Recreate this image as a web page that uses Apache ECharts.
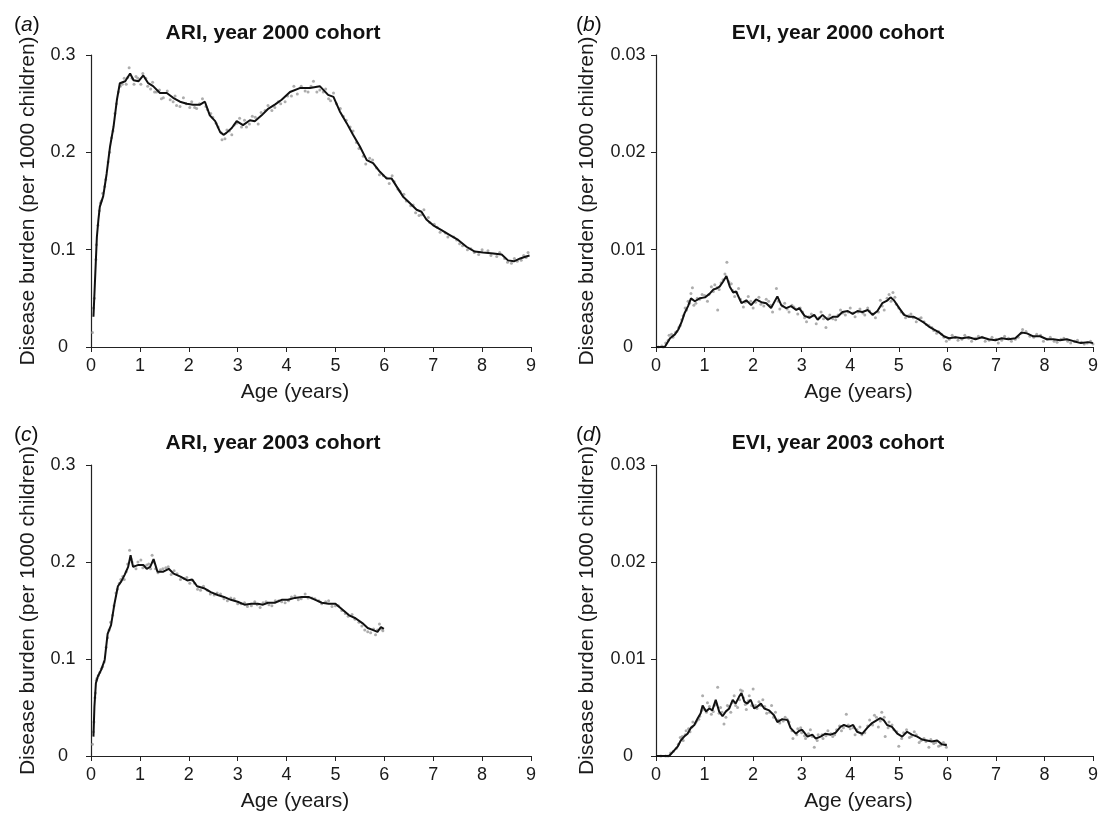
<!DOCTYPE html>
<html>
<head>
<meta charset="utf-8">
<script src="https://cdn.jsdelivr.net/npm/echarts@6/dist/echarts.min.js"></script>
<style>
  html, body { margin: 0; padding: 0; background: #fff; }
</style>
</head>
<body>
<div id="main" style="width: 1101px; height: 813px"></div>
<script>
// x axis ticks (age in years)
const ageTicks = [0, 1, 2, 3, 4, 5, 6, 7, 8, 9];

// (a) ARI, year 2000 cohort - smoothed line
const ageA = [0.05, 0.08, 0.12, 0.15, 0.18, 0.25, 0.32, 0.39, 0.46, 0.53, 0.59, 0.70, 0.80, 0.87, 0.97, 1.07, 1.17, 1.27, 1.41, 1.55, 1.68, 1.82, 1.96, 2.09, 2.23, 2.33, 2.43, 2.54, 2.64, 2.71, 2.77, 2.88, 2.98, 3.11, 3.25, 3.35, 3.49, 3.63, 3.76, 3.90, 4.07, 4.27, 4.48, 4.68, 4.85, 4.96, 5.09, 5.23, 5.36, 5.50, 5.64, 5.77, 5.91, 6.05, 6.15, 6.25, 6.39, 6.52, 6.66, 6.76, 6.86, 7.00, 7.17, 7.34, 7.51, 7.68, 7.85, 8.02, 8.23, 8.40, 8.53, 8.65, 8.78, 8.90, 8.97];
const lineA = [0.031, 0.066, 0.113, 0.130, 0.144, 0.155, 0.178, 0.206, 0.226, 0.254, 0.271, 0.273, 0.281, 0.274, 0.273, 0.279, 0.271, 0.268, 0.261, 0.261, 0.256, 0.252, 0.250, 0.249, 0.249, 0.252, 0.238, 0.232, 0.221, 0.218, 0.220, 0.225, 0.232, 0.228, 0.233, 0.232, 0.238, 0.245, 0.249, 0.254, 0.262, 0.266, 0.266, 0.268, 0.259, 0.257, 0.242, 0.230, 0.218, 0.206, 0.192, 0.189, 0.180, 0.173, 0.173, 0.165, 0.154, 0.148, 0.141, 0.139, 0.131, 0.125, 0.120, 0.115, 0.110, 0.103, 0.098, 0.097, 0.096, 0.095, 0.089, 0.088, 0.091, 0.093, 0.094];
// (a) raw points
const dotAgeA = [0.03, 0.07, 0.10, 0.14, 0.17, 0.21, 0.28, 0.35, 0.42, 0.49, 0.56, 0.64, 0.75, 0.78, 0.92, 1.02, 1.12, 1.22, 1.34, 1.48, 1.62, 1.75, 1.89, 2.02, 2.16, 2.28, 2.38, 2.49, 2.60, 2.68, 2.74, 2.83, 2.93, 3.04, 3.18, 3.30, 3.42, 3.56, 3.70, 3.83, 3.97, 4.15, 4.22, 4.38, 4.55, 4.62, 4.75, 4.90, 5.02, 5.16, 5.30, 5.43, 5.57, 5.70, 5.84, 5.98, 6.10, 6.20, 6.32, 6.45, 6.59, 6.71, 6.81, 6.93, 7.08, 7.25, 7.42, 7.60, 7.77, 7.93, 8.12, 8.30, 8.46, 8.60, 8.72, 8.85, 8.94,
  0.05, 0.11, 0.19, 0.24, 0.30, 0.38, 0.45, 0.52, 0.60, 0.68, 0.72, 0.84, 0.88, 0.96, 1.06, 1.16, 1.26, 1.30, 1.40, 1.44, 1.56, 1.68, 1.72, 1.82, 1.95, 2.06, 2.12, 2.22, 2.35, 2.45, 2.56, 2.66, 2.78, 2.88, 2.98, 3.08, 3.14, 3.24, 3.36, 3.48, 3.62, 3.76, 3.88, 4.02, 4.10, 4.30, 4.44, 4.50, 4.68, 4.80, 4.86, 4.96, 5.10, 5.22, 5.36, 5.48, 5.62, 5.76, 5.90, 6.04, 6.16, 6.28, 6.40, 6.54, 6.64, 6.76, 6.90, 7.02, 7.14, 7.30, 7.48, 7.54, 7.70, 7.84, 8.00, 8.18, 8.36, 8.52, 8.66, 8.80, 8.90];
const dotA = [0.015, 0.050, 0.090, 0.125, 0.140, 0.150, 0.165, 0.190, 0.215, 0.240, 0.262, 0.270, 0.277, 0.287, 0.278, 0.270, 0.276, 0.265, 0.262, 0.256, 0.254, 0.248, 0.256, 0.246, 0.245, 0.255, 0.244, 0.236, 0.226, 0.213, 0.214, 0.222, 0.228, 0.235, 0.226, 0.237, 0.229, 0.243, 0.243, 0.252, 0.252, 0.268, 0.260, 0.263, 0.273, 0.262, 0.262, 0.253, 0.250, 0.237, 0.226, 0.210, 0.196, 0.194, 0.184, 0.176, 0.168, 0.170, 0.160, 0.150, 0.146, 0.135, 0.141, 0.128, 0.123, 0.117, 0.113, 0.104, 0.101, 0.095, 0.099, 0.093, 0.091, 0.086, 0.088, 0.094, 0.097,
  0.040, 0.105, 0.148, 0.158, 0.172, 0.200, 0.222, 0.250, 0.268, 0.276, 0.270, 0.276, 0.270, 0.276, 0.281, 0.268, 0.272, 0.262, 0.264, 0.255, 0.263, 0.252, 0.258, 0.247, 0.250, 0.252, 0.246, 0.250, 0.247, 0.240, 0.230, 0.220, 0.223, 0.218, 0.230, 0.226, 0.233, 0.229, 0.236, 0.241, 0.248, 0.246, 0.250, 0.258, 0.258, 0.268, 0.262, 0.268, 0.264, 0.265, 0.255, 0.261, 0.245, 0.233, 0.222, 0.204, 0.188, 0.192, 0.177, 0.174, 0.176, 0.162, 0.157, 0.145, 0.138, 0.136, 0.133, 0.126, 0.118, 0.113, 0.110, 0.106, 0.100, 0.097, 0.100, 0.094, 0.097, 0.087, 0.091, 0.089, 0.092];

// (b) EVI, year 2000 cohort
const ageB = [0, 0.18, 0.22, 0.29, 0.39, 0.46, 0.53, 0.59, 0.66, 0.72, 0.80, 0.90, 1.01, 1.11, 1.18, 1.24, 1.31, 1.38, 1.45, 1.52, 1.59, 1.65, 1.76, 1.86, 1.96, 2.06, 2.17, 2.27, 2.37, 2.50, 2.58, 2.68, 2.78, 2.89, 2.95, 3.06, 3.16, 3.26, 3.33, 3.43, 3.54, 3.64, 3.74, 3.84, 3.95, 4.05, 4.15, 4.25, 4.36, 4.46, 4.56, 4.66, 4.77, 4.83, 4.90, 5.01, 5.11, 5.21, 5.31, 5.42, 5.52, 5.62, 5.72, 5.83, 5.93, 6.03, 6.17, 6.30, 6.44, 6.58, 6.71, 6.85, 6.99, 7.12, 7.26, 7.40, 7.53, 7.64, 7.77, 7.91, 8.05, 8.18, 8.32, 8.46, 8.60, 8.75, 8.90, 9.00];
const lineB = [0, 0, 0.00014, 0.0009, 0.0013, 0.0018, 0.0026, 0.0035, 0.0042, 0.0050, 0.0047, 0.0050, 0.0051, 0.0055, 0.0059, 0.0060, 0.0062, 0.0067, 0.0073, 0.0062, 0.0056, 0.0057, 0.0045, 0.0048, 0.0043, 0.0049, 0.0046, 0.0045, 0.0040, 0.0052, 0.0043, 0.0040, 0.0042, 0.0038, 0.0040, 0.0032, 0.0030, 0.0033, 0.0028, 0.0033, 0.0028, 0.0031, 0.0031, 0.0036, 0.0037, 0.0034, 0.0037, 0.0036, 0.0038, 0.0033, 0.0037, 0.0045, 0.0048, 0.0051, 0.0048, 0.0040, 0.0033, 0.0031, 0.0031, 0.0028, 0.0025, 0.0021, 0.0018, 0.0015, 0.0011, 0.0009, 0.0010, 0.0009, 0.0010, 0.0008, 0.0010, 0.0008, 0.0007, 0.0009, 0.0008, 0.0009, 0.0015, 0.0014, 0.0011, 0.0011, 0.0008, 0.0008, 0.0007, 0.0008, 0.0006, 0.0004, 0.0005, 0.0004];
const dotAgeB = [0.05, 0.12, 0.20, 0.27, 0.35, 0.43, 0.50, 0.56, 0.63, 0.69, 0.75, 0.78, 0.85, 0.95, 1.06, 1.14, 1.21, 1.27, 1.34, 1.42, 1.46, 1.55, 1.62, 1.70, 1.80, 1.90, 2.00, 2.12, 2.22, 2.32, 2.40, 2.48, 2.55, 2.65, 2.74, 2.84, 2.92, 3.02, 3.10, 3.20, 3.30, 3.40, 3.50, 3.58, 3.70, 3.80, 3.90, 4.00, 4.10, 4.20, 4.30, 4.40, 4.52, 4.62, 4.70, 4.80, 4.88, 4.95, 5.05, 5.14, 5.25, 5.36, 5.46, 5.57, 5.68, 5.78, 5.88, 5.98, 6.10, 6.22, 6.36, 6.50, 6.64, 6.78, 6.92, 7.05, 7.18, 7.32, 7.46, 7.55, 7.70, 7.84, 7.98, 8.12, 8.26, 8.40, 8.54, 8.68, 8.82, 8.95,
  0.15, 0.25, 0.32, 0.40, 0.47, 0.53, 0.60, 0.66, 0.72, 0.82, 0.90, 1.00, 1.09, 1.18, 1.25, 1.30, 1.38, 1.50, 1.58, 1.66, 1.74, 1.84, 1.95, 2.05, 2.16, 2.27, 2.36, 2.52, 2.60, 2.70, 2.80, 2.88, 2.97, 3.06, 3.15, 3.25, 3.36, 3.45, 3.55, 3.64, 3.75, 3.85, 3.96, 4.06, 4.16, 4.26, 4.36, 4.46, 4.58, 4.66, 4.76, 4.84, 4.92, 5.00, 5.10, 5.20, 5.30, 5.42, 5.52, 5.62, 5.72, 5.82, 5.93, 6.04, 6.16, 6.30, 6.44, 6.58, 6.72, 6.86, 7.00, 7.12, 7.26, 7.40, 7.52, 7.62, 7.78, 7.92, 8.06, 8.20, 8.34, 8.48, 8.62, 8.76, 8.88, 9.00];
const dotB = [0, 0.0001, 0.0004, 0.0012, 0.0010, 0.0016, 0.0022, 0.0032, 0.0038, 0.0045, 0.0061, 0.0043, 0.0050, 0.0054, 0.0047, 0.0062, 0.0064, 0.0038, 0.0066, 0.0075, 0.0087, 0.0065, 0.0052, 0.0060, 0.0041, 0.0052, 0.0040, 0.0051, 0.0042, 0.0047, 0.0036, 0.0060, 0.0039, 0.0045, 0.0036, 0.0041, 0.0034, 0.0036, 0.0026, 0.0034, 0.0024, 0.0036, 0.0020, 0.0033, 0.0028, 0.0038, 0.0033, 0.0040, 0.0031, 0.0039, 0.0033, 0.0037, 0.0030, 0.0048, 0.0038, 0.0054, 0.0056, 0.0044, 0.0036, 0.0030, 0.0034, 0.0026, 0.0030, 0.0023, 0.0020, 0.0014, 0.0013, 0.0006, 0.0012, 0.0007, 0.0012, 0.0006, 0.0011, 0.0006, 0.0010, 0.0004, 0.0011, 0.0006, 0.0010, 0.0018, 0.0011, 0.0013, 0.0006, 0.0010, 0.0005, 0.0009, 0.0004, 0.0007, 0.0003, 0.0006,
  0, 0.0007, 0.0013, 0.0015, 0.0020, 0.0028, 0.0040, 0.0047, 0.0055, 0.0045, 0.0049, 0.0053, 0.0054, 0.0057, 0.0061, 0.0059, 0.0069, 0.0067, 0.0058, 0.0056, 0.0049, 0.0046, 0.0047, 0.0046, 0.0044, 0.0049, 0.0043, 0.0047, 0.0042, 0.0039, 0.0043, 0.0039, 0.0040, 0.0030, 0.0031, 0.0032, 0.0030, 0.0029, 0.0030, 0.0029, 0.0033, 0.0035, 0.0036, 0.0035, 0.0036, 0.0035, 0.0040, 0.0034, 0.0036, 0.0042, 0.0050, 0.0047, 0.0051, 0.0040, 0.0034, 0.0032, 0.0030, 0.0029, 0.0026, 0.0022, 0.0017, 0.0016, 0.0010, 0.0008, 0.0010, 0.0008, 0.0009, 0.0009, 0.0010, 0.0007, 0.0008, 0.0007, 0.0009, 0.0008, 0.0014, 0.0016, 0.0010, 0.0012, 0.0008, 0.0006, 0.0008, 0.0006, 0.0006, 0.0005, 0.0004, 0.0003];

// (c) ARI, year 2003 cohort
const ageC = [0.05, 0.07, 0.10, 0.14, 0.21, 0.28, 0.34, 0.41, 0.48, 0.55, 0.62, 0.69, 0.76, 0.81, 0.86, 0.97, 1.07, 1.14, 1.21, 1.28, 1.36, 1.48, 1.59, 1.69, 1.83, 1.97, 2.07, 2.17, 2.31, 2.45, 2.59, 2.72, 2.86, 3.00, 3.14, 3.28, 3.41, 3.52, 3.62, 3.76, 3.90, 4.03, 4.17, 4.31, 4.45, 4.59, 4.72, 4.86, 5.00, 5.14, 5.28, 5.41, 5.55, 5.66, 5.76, 5.86, 5.93, 5.99];
const lineC = [0.020, 0.051, 0.075, 0.082, 0.089, 0.099, 0.126, 0.135, 0.157, 0.175, 0.180, 0.187, 0.195, 0.207, 0.195, 0.197, 0.197, 0.193, 0.195, 0.203, 0.190, 0.190, 0.193, 0.188, 0.185, 0.181, 0.182, 0.175, 0.173, 0.169, 0.166, 0.164, 0.161, 0.159, 0.156, 0.157, 0.157, 0.156, 0.158, 0.158, 0.161, 0.161, 0.163, 0.164, 0.164, 0.161, 0.158, 0.157, 0.157, 0.151, 0.145, 0.142, 0.137, 0.132, 0.130, 0.128, 0.133, 0.131];
const dotAgeC = [0.03, 0.06, 0.09, 0.12, 0.18, 0.24, 0.31, 0.37, 0.44, 0.51, 0.58, 0.65, 0.72, 0.79, 0.84, 0.92, 1.02, 1.10, 1.18, 1.25, 1.32, 1.42, 1.53, 1.64, 1.76, 1.90, 2.02, 2.12, 2.24, 2.38, 2.52, 2.65, 2.79, 2.93, 3.07, 3.20, 3.35, 3.46, 3.58, 3.70, 3.84, 3.97, 4.10, 4.24, 4.38, 4.52, 4.66, 4.80, 4.93, 5.06, 5.20, 5.34, 5.48, 5.60, 5.72, 5.82, 5.90, 5.97,
  0.05, 0.08, 0.11, 0.15, 0.21, 0.27, 0.34, 0.40, 0.47, 0.54, 0.61, 0.68, 0.75, 0.82, 0.88, 0.96, 1.06, 1.14, 1.22, 1.28, 1.37, 1.47, 1.58, 1.70, 1.83, 1.96, 2.08, 2.18, 2.30, 2.44, 2.58, 2.72, 2.86, 3.00, 3.14, 3.28, 3.40, 3.52, 3.64, 3.77, 3.90, 4.04, 4.17, 4.30, 4.44, 4.58, 4.72, 4.86, 5.00, 5.13, 5.26, 5.40, 5.54, 5.66, 5.78, 5.86, 5.94];
const dotC = [0.012, 0.035, 0.065, 0.080, 0.086, 0.092, 0.112, 0.130, 0.145, 0.168, 0.178, 0.185, 0.190, 0.212, 0.200, 0.193, 0.202, 0.195, 0.198, 0.207, 0.193, 0.192, 0.194, 0.187, 0.188, 0.183, 0.178, 0.178, 0.171, 0.171, 0.166, 0.167, 0.160, 0.162, 0.157, 0.154, 0.159, 0.153, 0.159, 0.155, 0.160, 0.158, 0.164, 0.161, 0.167, 0.163, 0.160, 0.159, 0.154, 0.155, 0.147, 0.146, 0.138, 0.130, 0.127, 0.125, 0.136, 0.129,
  0.025, 0.060, 0.078, 0.083, 0.090, 0.097, 0.122, 0.138, 0.155, 0.172, 0.182, 0.182, 0.198, 0.203, 0.196, 0.200, 0.194, 0.197, 0.193, 0.200, 0.189, 0.193, 0.195, 0.191, 0.182, 0.184, 0.181, 0.172, 0.175, 0.167, 0.168, 0.162, 0.163, 0.157, 0.158, 0.155, 0.156, 0.158, 0.156, 0.160, 0.159, 0.160, 0.165, 0.162, 0.163, 0.162, 0.157, 0.160, 0.155, 0.150, 0.144, 0.141, 0.134, 0.128, 0.131, 0.130, 0.131];

// (d) EVI, year 2003 cohort
const ageD = [0, 0.27, 0.31, 0.38, 0.45, 0.51, 0.58, 0.65, 0.72, 0.79, 0.86, 0.92, 0.96, 1.03, 1.10, 1.16, 1.23, 1.30, 1.37, 1.44, 1.51, 1.58, 1.64, 1.71, 1.76, 1.82, 1.88, 1.95, 2.02, 2.09, 2.16, 2.23, 2.33, 2.43, 2.50, 2.60, 2.71, 2.77, 2.88, 2.95, 3.01, 3.12, 3.22, 3.29, 3.39, 3.49, 3.60, 3.70, 3.80, 3.87, 3.97, 4.06, 4.14, 4.25, 4.35, 4.45, 4.55, 4.62, 4.69, 4.76, 4.86, 4.97, 5.07, 5.17, 5.27, 5.38, 5.48, 5.58, 5.68, 5.79, 5.89, 5.99];
const lineD = [0, 0, 0.0001, 0.0006, 0.0010, 0.0016, 0.0020, 0.0023, 0.0029, 0.0032, 0.0039, 0.0044, 0.0052, 0.0046, 0.0049, 0.0047, 0.0058, 0.0046, 0.0041, 0.0046, 0.0049, 0.0058, 0.0054, 0.0061, 0.0065, 0.0056, 0.0054, 0.0058, 0.0049, 0.0051, 0.0054, 0.0049, 0.0047, 0.0042, 0.0035, 0.0038, 0.0037, 0.0029, 0.0023, 0.0026, 0.0027, 0.0020, 0.0022, 0.0018, 0.0020, 0.0023, 0.0022, 0.0024, 0.0030, 0.0032, 0.0030, 0.0032, 0.0025, 0.0023, 0.0029, 0.0034, 0.0037, 0.0039, 0.0037, 0.0032, 0.0030, 0.0023, 0.0020, 0.0025, 0.0022, 0.0020, 0.0017, 0.0016, 0.0015, 0.0016, 0.0012, 0.0011];
const dotAgeD = [0.10, 0.20, 0.30, 0.42, 0.50, 0.56, 0.62, 0.70, 0.76, 0.84, 0.90, 0.96, 1.00, 1.06, 1.14, 1.20, 1.27, 1.33, 1.40, 1.47, 1.54, 1.61, 1.68, 1.74, 1.80, 1.86, 1.92, 2.00, 2.05, 2.12, 2.20, 2.28, 2.38, 2.46, 2.55, 2.66, 2.74, 2.82, 2.92, 3.00, 3.08, 3.18, 3.26, 3.34, 3.44, 3.54, 3.64, 3.72, 3.82, 3.92, 4.00, 4.10, 4.20, 4.30, 4.40, 4.50, 4.58, 4.65, 4.72, 4.80, 4.90, 5.00, 5.10, 5.22, 5.32, 5.42, 5.52, 5.62, 5.72, 5.82, 5.92, 5.98,
  0.25, 0.36, 0.46, 0.54, 0.60, 0.67, 0.74, 0.81, 0.88, 0.94, 1.04, 1.10, 1.18, 1.24, 1.30, 1.36, 1.44, 1.50, 1.57, 1.64, 1.72, 1.78, 1.84, 1.90, 1.97, 2.08, 2.16, 2.24, 2.34, 2.42, 2.52, 2.62, 2.70, 2.80, 2.90, 2.98, 3.06, 3.14, 3.22, 3.32, 3.42, 3.50, 3.60, 3.68, 3.78, 3.86, 3.96, 4.06, 4.14, 4.24, 4.36, 4.46, 4.54, 4.62, 4.70, 4.78, 4.86, 4.96, 5.06, 5.16, 5.26, 5.36, 5.46, 5.56, 5.66, 5.76, 5.86, 5.96];
const dotD = [0, 0, 0.0003, 0.0008, 0.0019, 0.0016, 0.0026, 0.0025, 0.0035, 0.0036, 0.0041, 0.0062, 0.0048, 0.0055, 0.0043, 0.0052, 0.0071, 0.0050, 0.0033, 0.0052, 0.0045, 0.0062, 0.0050, 0.0068, 0.0060, 0.0048, 0.0062, 0.0069, 0.0052, 0.0056, 0.0058, 0.0044, 0.0052, 0.0045, 0.0034, 0.0040, 0.0035, 0.0018, 0.0028, 0.0024, 0.0018, 0.0027, 0.0009, 0.0022, 0.0018, 0.0026, 0.0020, 0.0027, 0.0026, 0.0043, 0.0028, 0.0022, 0.0030, 0.0024, 0.0037, 0.0042, 0.0030, 0.0045, 0.0020, 0.0035, 0.0027, 0.0010, 0.0024, 0.0019, 0.0025, 0.0014, 0.0018, 0.0009, 0.0013, 0.0010, 0.0014, 0.0009,
  0, 0.0005, 0.0012, 0.0020, 0.0022, 0.0028, 0.0030, 0.0034, 0.0038, 0.0047, 0.0045, 0.0051, 0.0046, 0.0053, 0.0044, 0.0045, 0.0040, 0.0051, 0.0055, 0.0052, 0.0058, 0.0067, 0.0053, 0.0057, 0.0052, 0.0049, 0.0052, 0.0051, 0.0045, 0.0040, 0.0037, 0.0036, 0.0038, 0.0026, 0.0022, 0.0029, 0.0021, 0.0023, 0.0020, 0.0016, 0.0022, 0.0021, 0.0023, 0.0022, 0.0031, 0.0029, 0.0032, 0.0029, 0.0027, 0.0022, 0.0031, 0.0032, 0.0040, 0.0036, 0.0040, 0.0029, 0.0032, 0.0025, 0.0018, 0.0027, 0.0020, 0.0022, 0.0016, 0.0015, 0.0017, 0.0014, 0.0011, 0.0012];

const panelTitles = ["ARI, year 2000 cohort", "EVI, year 2000 cohort", "ARI, year 2003 cohort", "EVI, year 2003 cohort"];
const panelLetters = ["a", "b", "c", "d"];
const yMax = [0.3, 0.03, 0.3, 0.03];
const yStep = [0.1, 0.01, 0.1, 0.01];

const FONT = "'Liberation Sans', Arial, Helvetica, sans-serif";
const zip = (xs, ys) => xs.map((x, i) => [x, ys[i]]);

const lines = [zip(ageA, lineA), zip(ageB, lineB), zip(ageC, lineC), zip(ageD, lineD)];
const dots = [zip(dotAgeA, dotA), zip(dotAgeB, dotB), zip(dotAgeC, dotC), zip(dotAgeD, dotD)];

// panel placement
const gridLeft = [91, 656, 91, 656];
const gridTop = [55, 55, 465, 465];
const gridW = 440;
const gridH = 292;
const yNameGap = [52, 58, 52, 58];

let myChart = echarts.init(document.getElementById("main"));

let grids = [], xAxes = [], yAxes = [], series = [], graphics = [];
for (let i = 0; i < 4; i++) {
  grids.push({ left: gridLeft[i], top: gridTop[i], width: gridW, height: gridH, containLabel: false });
  xAxes.push({
    type: "value",
    gridIndex: i,
    min: ageTicks[0],
    max: ageTicks[ageTicks.length - 1],
    interval: 1,
    name: "Age (years)",
    nameLocation: "middle",
    nameGap: 35,
    nameTextStyle: { fontFamily: FONT, fontSize: 21, color: "#1a1a1a", padding: [0, 32, 0, 0] },
    axisLine: { show: true, onZero: false, lineStyle: { color: "#222", width: 1.2 } },
    axisTick: { show: true, inside: false, length: 5, lineStyle: { color: "#222" } },
    axisLabel: { fontFamily: FONT, fontSize: 18, color: "#1a1a1a", margin: 10 },
    splitLine: { show: false },
  });
  yAxes.push({
    type: "value",
    gridIndex: i,
    min: 0,
    max: yMax[i],
    interval: yStep[i],
    name: "Disease burden (per 1000 children)",
    nameLocation: "middle",
    nameRotate: 90,
    nameGap: yNameGap[i],
    nameTextStyle: { fontFamily: FONT, fontSize: 21, color: "#1a1a1a" },
    axisLine: { show: true, lineStyle: { color: "#222", width: 1.2 } },
    axisTick: { show: true, inside: false, length: 5, lineStyle: { color: "#222" } },
    axisLabel: {
      fontFamily: FONT, fontSize: 18, color: "#1a1a1a", margin: 28, align: "center",
      formatter: (v) => (v === 0 ? "0" : String(+v.toFixed(3))),
    },
    splitLine: { show: false },
  });
  series.push({
    type: "scatter",
    xAxisIndex: i,
    yAxisIndex: i,
    data: dots[i],
    symbolSize: 3,
    itemStyle: { color: "#999" },
    silent: true,
    z: 2,
  });
  series.push({
    type: "line",
    xAxisIndex: i,
    yAxisIndex: i,
    data: lines[i],
    showSymbol: false,
    lineStyle: { color: "#111", width: 2 },
    silent: true,
    z: 3,
  });
  // panel title, centred a bit left of the plot centre
  graphics.push({
    type: "text",
    x: gridLeft[i] + gridW / 2 - 38,
    y: gridTop[i] - 22,
    style: {
      text: panelTitles[i],
      font: "bold 21px " + FONT,
      fill: "#111",
      textAlign: "center",
      textVerticalAlign: "middle",
    },
  });
  // panel letter "(a)" etc, letter in italics
  graphics.push({
    type: "text",
    x: gridLeft[i] - 77 - (i % 2 ? 3 : 0),
    y: gridTop[i] - 30,
    style: {
      text: "({l|" + panelLetters[i] + "})",
      font: "21px " + FONT,
      fill: "#111",
      textVerticalAlign: "middle",
      rich: { l: { fontFamily: FONT, fontSize: 21, fontStyle: "italic", fill: "#111" } },
    },
  });
}

let option = {
  animation: false,
  backgroundColor: "#fff",
  grid: grids,
  xAxis: xAxes,
  yAxis: yAxes,
  series: series,
  graphic: graphics,
};
myChart.setOption(option);
</script>
</body>
</html>
